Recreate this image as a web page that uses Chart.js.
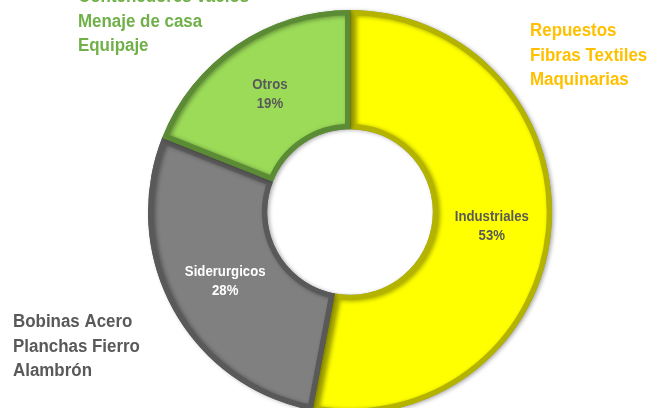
<!DOCTYPE html>
<html>
<head>
<meta charset="utf-8">
<script src="https://cdn.jsdelivr.net/npm/chart.js@4"></script>
<style>
  html, body { margin: 0; padding: 0; background: #ffffff; }
  #wrap { width: 661px; height: 408px; position: relative; }
</style>
</head>
<body>
<div id="wrap"><canvas id="c" width="661" height="408"></canvas></div>
<script>
const categories = ["Industriales", "Siderurgicos", "Otros"];
const shares = [53, 28, 19];
const sliceColors = ["#FFFF00", "#808080", "#9BDB58"];
const sliceBorders = ["#B4B400", "#595959", "#5B8C35"];
const labelColors = ["#595959", "#FFFFFF", "#595959"];

const greenNotes = ["Contenedores vacíos", "Menaje de casa", "Equipaje"];
const orangeNotes = ["Repuestos", "Fibras Textiles", "Maquinarias"];
const grayNotes = ["Bobinas Acero", "Planchas Fierro", "Alambrón"];

function condensedText(ctx, text, x, y, sx) {
  ctx.save();
  ctx.translate(x, y);
  ctx.scale(sx, 1);
  ctx.fillText(text, 0, 0);
  ctx.restore();
}

const sliceLabels = {
  id: "sliceLabels",
  afterDatasetsDraw(chart) {
    const ctx = chart.ctx;
    const meta = chart.getDatasetMeta(0);
    ctx.save();
    ctx.font = "bold 15px 'Liberation Sans', Arial, sans-serif";
    ctx.textAlign = "center";
    ctx.textBaseline = "middle";
    meta.data.forEach((arc, i) => {
      const p = arc.getCenterPoint();
      ctx.fillStyle = labelColors[i];
      condensedText(ctx, categories[i], p.x, p.y - 9, 0.88);
      condensedText(ctx, shares[i] + "%", p.x, p.y + 10, 0.88);
    });
    ctx.restore();
  }
};

const notes = {
  id: "notes",
  afterDraw(chart) {
    const ctx = chart.ctx;
    ctx.save();
    ctx.font = "bold 18px 'Liberation Sans', Arial, sans-serif";
    ctx.textAlign = "left";
    ctx.textBaseline = "alphabetic";
    const groups = [
      [greenNotes, "#70B048", 78, 2],
      [orangeNotes, "#FFC000", 530, 36],
      [grayNotes, "#595959", 13, 327]
    ];
    groups.forEach(([lines, color, x, y]) => {
      ctx.fillStyle = color;
      lines.forEach((t, k) => condensedText(ctx, t, x, y + k * 24.7, 0.94));
    });
    ctx.restore();
  }
};

const shadow = {
  id: "shadow",
  beforeDatasetsDraw(chart) {
    const ctx = chart.ctx;
    ctx.save();
    ctx.shadowColor = "rgba(0,0,0,0.35)";
    ctx.shadowBlur = 4;
    ctx.shadowOffsetX = 2;
    ctx.shadowOffsetY = 1;
  },
  afterDatasetsDraw(chart) {
    chart.ctx.restore();
  }
};

new Chart(document.getElementById("c"), {
  type: "doughnut",
  data: {
    labels: categories,
    datasets: [{
      data: shares,
      backgroundColor: sliceColors,
      borderColor: sliceBorders,
      borderWidth: 5,
      borderAlign: "inner"
    }]
  },
  options: {
    responsive: false,
    animation: false,
    radius: 202,
    cutout: "41%",
    layout: { padding: { left: 39, top: 16, right: 0, bottom: 0 } },
    plugins: {
      legend: { display: false },
      tooltip: { enabled: false },
      title: { display: false }
    }
  },
  plugins: [shadow, sliceLabels, notes]
});
</script>
</body>
</html>
